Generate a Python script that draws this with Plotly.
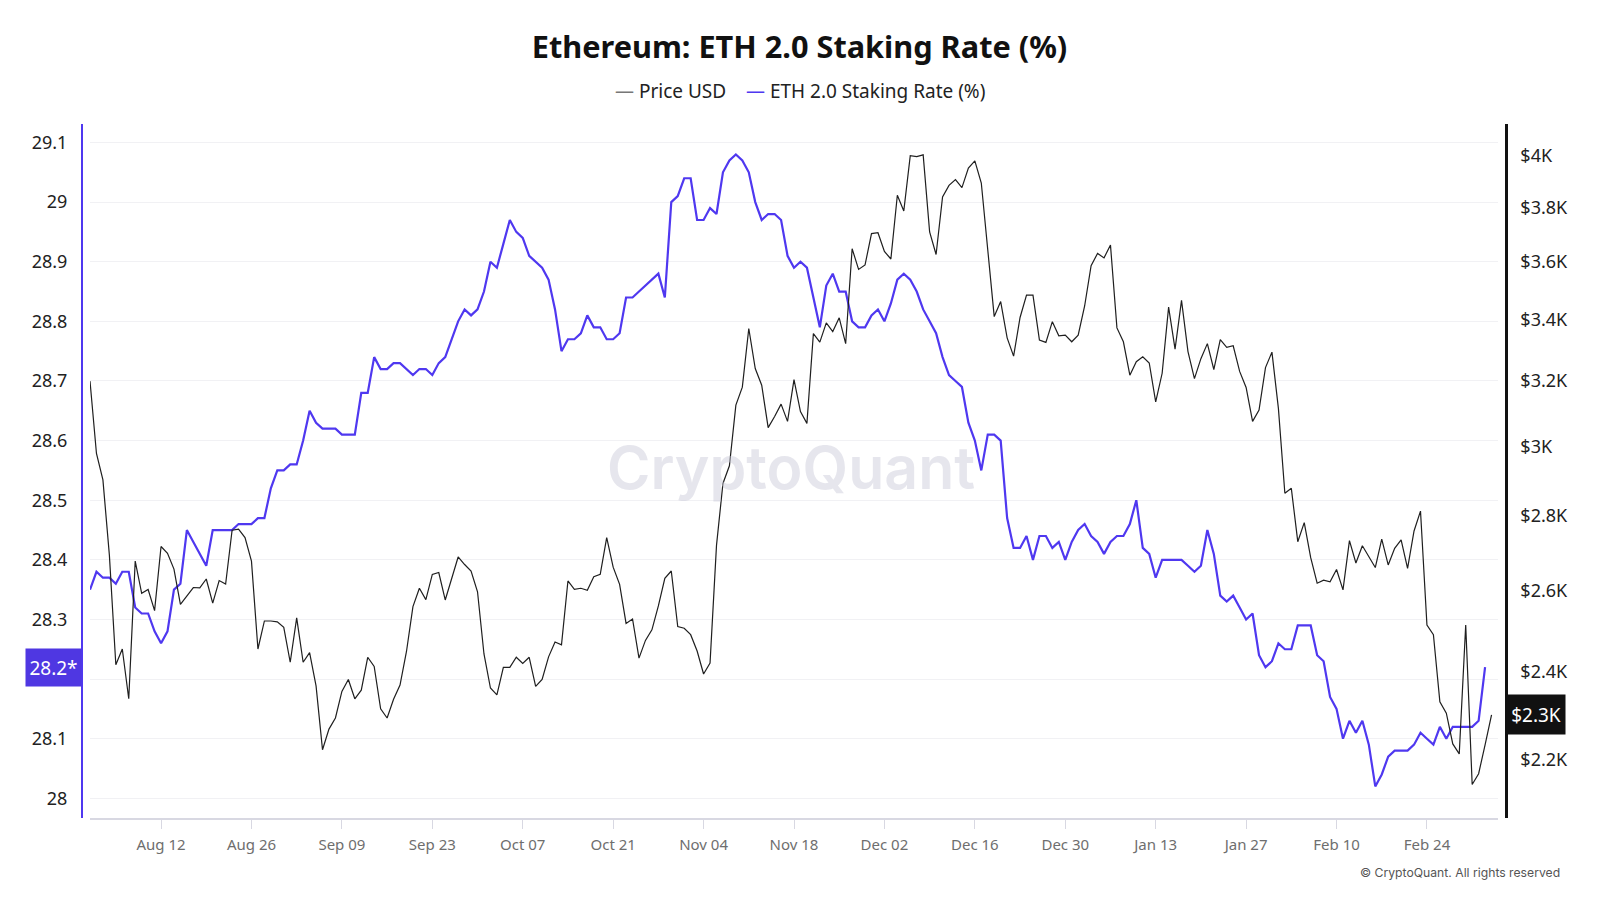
import math
import pandas as pd
import plotly.graph_objects as go

# ---------------- data ----------------
start_date = "2024-08-01"

staking_rate = [
    28.35, 28.38, 28.37, 28.37, 28.36, 28.38, 28.38, 28.32, 28.31, 28.31,
    28.28, 28.26, 28.28, 28.35, 28.36, 28.45, 28.43, 28.41, 28.39, 28.45,
    28.45, 28.45, 28.45, 28.46, 28.46, 28.46, 28.47, 28.47, 28.52, 28.55,
    28.55, 28.56, 28.56, 28.60, 28.65, 28.63, 28.62, 28.62, 28.62, 28.61,
    28.61, 28.61, 28.68, 28.68, 28.74, 28.72, 28.72, 28.73, 28.73, 28.72,
    28.71, 28.72, 28.72, 28.71, 28.73, 28.74, 28.77, 28.80, 28.82, 28.81,
    28.82, 28.85, 28.90, 28.89, 28.93, 28.97, 28.95, 28.94, 28.91, 28.90,
    28.89, 28.87, 28.82, 28.75, 28.77, 28.77, 28.78, 28.81, 28.79, 28.79,
    28.77, 28.77, 28.78, 28.84, 28.84, 28.85, 28.86, 28.87, 28.88, 28.84,
    29.00, 29.01, 29.04, 29.04, 28.97, 28.97, 28.99, 28.98, 29.05, 29.07,
    29.08, 29.07, 29.05, 29.00, 28.97, 28.98, 28.98, 28.97, 28.91, 28.89,
    28.90, 28.89, 28.84, 28.79, 28.86, 28.88, 28.85, 28.85, 28.80, 28.79,
    28.79, 28.81, 28.82, 28.80, 28.83, 28.87, 28.88, 28.87, 28.85, 28.82,
    28.80, 28.78, 28.74, 28.71, 28.70, 28.69, 28.63, 28.60, 28.55, 28.61,
    28.61, 28.60, 28.47, 28.42, 28.42, 28.44, 28.40, 28.44, 28.44, 28.42,
    28.43, 28.40, 28.43, 28.45, 28.46, 28.44, 28.43, 28.41, 28.43, 28.44,
    28.44, 28.46, 28.50, 28.42, 28.41, 28.37, 28.40, 28.40, 28.40, 28.40,
    28.39, 28.38, 28.39, 28.45, 28.41, 28.34, 28.33, 28.34, 28.32, 28.30,
    28.31, 28.24, 28.22, 28.23, 28.26, 28.25, 28.25, 28.29, 28.29, 28.29,
    28.24, 28.23, 28.17, 28.15, 28.10, 28.13, 28.11, 28.13, 28.09, 28.02,
    28.04, 28.07, 28.08, 28.08, 28.08, 28.09, 28.11, 28.10, 28.09, 28.12,
    28.10, 28.12, 28.12, 28.12, 28.12, 28.13, 28.22,
]

price_usd = [
    3200, 2979, 2902, 2694, 2417, 2455, 2337, 2678, 2594, 2604,
    2550, 2717, 2699, 2657, 2566, 2588, 2609, 2608, 2631, 2569,
    2627, 2618, 2761, 2764, 2741, 2678, 2455, 2524, 2524, 2522,
    2508, 2423, 2532, 2423, 2446, 2367, 2222, 2268, 2293, 2354,
    2382, 2337, 2357, 2435, 2413, 2314, 2293, 2336, 2369, 2449,
    2560, 2607, 2578, 2643, 2648, 2577, 2631, 2689, 2669, 2652,
    2598, 2443, 2362, 2346, 2411, 2411, 2435, 2420, 2435, 2366,
    2382, 2436, 2472, 2465, 2626, 2604, 2607, 2602, 2637, 2643,
    2741, 2662, 2617, 2518, 2529, 2433, 2476, 2502, 2562, 2633,
    2652, 2510, 2506, 2490, 2450, 2395, 2421, 2720, 2892, 2943,
    3125, 3181, 3371, 3240, 3187, 3056, 3090, 3128, 3075, 3205,
    3105, 3069, 3354, 3326, 3390, 3361, 3407, 3321, 3648, 3574,
    3590, 3703, 3706, 3638, 3611, 3846, 3787, 4000, 3996, 4003,
    3709, 3627, 3840, 3884, 3906, 3875, 3951, 3979, 3893, 3648,
    3411, 3462, 3340, 3280, 3408, 3484, 3484, 3333, 3325, 3394,
    3347, 3349, 3327, 3349, 3447, 3587, 3631, 3615, 3661, 3373,
    3327, 3219, 3262, 3278, 3258, 3135, 3225, 3443, 3303, 3466,
    3295, 3208, 3272, 3321, 3237, 3334, 3309, 3314, 3231, 3180,
    3075, 3110, 3243, 3293, 3115, 2864, 2878, 2730, 2782, 2687,
    2620, 2628, 2624, 2656, 2603, 2733, 2673, 2719, 2690, 2661,
    2737, 2668, 2712, 2735, 2659, 2759, 2814, 2514, 2490, 2330,
    2304, 2235, 2213, 2514, 2147, 2170, 2233, 2300,
]

x_tick_dates = ["2024-08-12", "2024-08-26", "2024-09-09", "2024-09-23", "2024-10-07",
                "2024-10-21", "2024-11-04", "2024-11-18", "2024-12-02", "2024-12-16",
                "2024-12-30", "2025-01-13", "2025-01-27", "2025-02-10", "2025-02-24"]
x_tick_labels = ["Aug 12", "Aug 26", "Sep 09", "Sep 23", "Oct 07", "Oct 21", "Nov 04",
                 "Nov 18", "Dec 02", "Dec 16", "Dec 30", "Jan 13", "Jan 27", "Feb 10", "Feb 24"]

left_ticks = [28.0, 28.1, 28.2, 28.3, 28.4, 28.5, 28.6, 28.7, 28.8, 28.9, 29.0, 29.1]
left_tick_labels = ["28", "28.1", "28.2", "28.3", "28.4", "28.5", "28.6", "28.7",
                    "28.8", "28.9", "29", "29.1"]
right_ticks = [2200, 2400, 2600, 2800, 3000, 3200, 3400, 3600, 3800, 4000]
right_tick_labels = ["$2.2K", "$2.4K", "$2.6K", "$2.8K", "$3K", "$3.2K", "$3.4K",
                     "$3.6K", "$3.8K", "$4K"]

# ---------------- styling ----------------
BLUE = "#4f38f0"
BLUE_BOX = "#4f37e2"
FONT = "Noto Sans"

price_dates = pd.date_range(start_date, periods=len(price_usd), freq="D")
stake_dates = pd.date_range(start_date, periods=len(staking_rate), freq="D")

fig = go.Figure()
fig.add_trace(go.Scatter(
    x=price_dates, y=price_usd, name="Price USD", mode="lines",
    line=dict(color="#1f1f1f", width=1.2), yaxis="y2",
))
fig.add_trace(go.Scatter(
    x=stake_dates, y=staking_rate, name="ETH 2.0 Staking Rate (%)", mode="lines",
    line=dict(color=BLUE, width=2.2), yaxis="y",
))

W, H = 1600, 900
L_PX, R_PX = 74, 1498      # axis lines
T_PX, B_PX = 115.5, 810.5  # plot top / bottom
PW = R_PX - L_PX
PH = B_PX - T_PX
GL, GR = 82, 1490          # x-domain (gridline extent)


def px_x(px):
    return (px - L_PX) / PW


def px_y(py):
    return (B_PX - py) / PH


fig.update_layout(
    width=W, height=H,
    paper_bgcolor="white", plot_bgcolor="white",
    margin=dict(l=L_PX, r=W - R_PX, t=T_PX, b=H - B_PX, pad=0),
    showlegend=False,
    font=dict(family=FONT, color="#222222"),
    title=dict(
        text="<b>Ethereum: ETH 2.0 Staking Rate (%)</b>",
        x=791.5 / W, xref="container", xanchor="center",
        y=1 - 39.5 / H, yref="container", yanchor="middle",
        font=dict(family=FONT, size=30.7, color="#111111"),
    ),
    xaxis=dict(
        domain=[px_x(GL), px_x(GR)],
        type="date",
        range=["2024-08-01", "2025-03-07"],
        tickvals=x_tick_dates, ticktext=x_tick_labels,
        showgrid=False, zeroline=False,
        showline=True, linecolor="#d8d8e2", linewidth=1.5,
        ticks="outside", ticklen=9, tickcolor="#d8d8e2", tickwidth=1.2,
        tickfont=dict(family=FONT, size=15, color="#6e6e6e"),
        ticklabelstandoff=3,
    ),
    yaxis=dict(
        anchor="free", position=0,
        range=[27.967, 29.131],
        tickvals=left_ticks, ticktext=left_tick_labels,
        showgrid=True, gridcolor="#f1f1f4", gridwidth=1,
        zeroline=False,
        showline=True, linecolor=BLUE, linewidth=2,
        ticks="", ticklabelstandoff=10,
        tickfont=dict(family=FONT, size=18, color="#222222"),
    ),
    yaxis2=dict(
        type="log", overlaying="y", side="right",
        anchor="free", position=1,
        range=[math.log10(2077), math.log10(4127)],
        tickvals=right_ticks, ticktext=right_tick_labels,
        showgrid=False, zeroline=False,
        showline=True, linecolor="#111111", linewidth=2.5,
        ticks="", ticklabelstandoff=9,
        tickfont=dict(family=FONT, size=18, color="#222222"),
    ),
)

annotations = []
# legend (drawn as text)
annotations.append(dict(
    xref="paper", yref="paper", x=px_x(792), y=px_y(82),
    xanchor="center", yanchor="middle", showarrow=False,
    text=("<span style='color:#777777'>—</span> Price USD"
          "&nbsp;&nbsp;&nbsp;&nbsp;"
          f"<span style='color:{BLUE}'>—</span> ETH 2.0 Staking Rate (%)"),
    font=dict(family=FONT, size=19, color="#222222"),
))
# watermark
annotations.append(dict(
    xref="paper", yref="paper", x=px_x(783), y=px_y(459),
    xanchor="center", yanchor="middle", showarrow=False,
    text="CryptoQuant",
    font=dict(family="Inter", size=59, color="rgba(200,200,214,0.45)", weight=600),
))
# copyright
annotations.append(dict(
    xref="paper", yref="paper", x=px_x(1554), y=px_y(865),
    xanchor="right", yanchor="middle", showarrow=False,
    text="© CryptoQuant. All rights reserved",
    font=dict(family="Inter", size=12.2, color="#555555"),
))
# last value labels
annotations.append(dict(
    xref="paper", yref="y", x=0, y=staking_rate[-1],
    xanchor="right", yanchor="middle", showarrow=False,
    text=f"{staking_rate[-1]:.1f}*",
    bgcolor=BLUE_BOX, width=55, height=37, borderpad=0,
    font=dict(family=FONT, size=19, color="white"),
))
annotations.append(dict(
    xref="paper", yref="y2", x=1, y=math.log10(price_usd[-1]),
    xanchor="left", yanchor="middle", showarrow=False,
    text=f"${price_usd[-1] / 1000:.1f}K",
    bgcolor="#111111", width=58, height=39, borderpad=0,
    font=dict(family=FONT, size=19, color="white"),
))
fig.update_layout(annotations=annotations)

fig.write_html("out.html")
